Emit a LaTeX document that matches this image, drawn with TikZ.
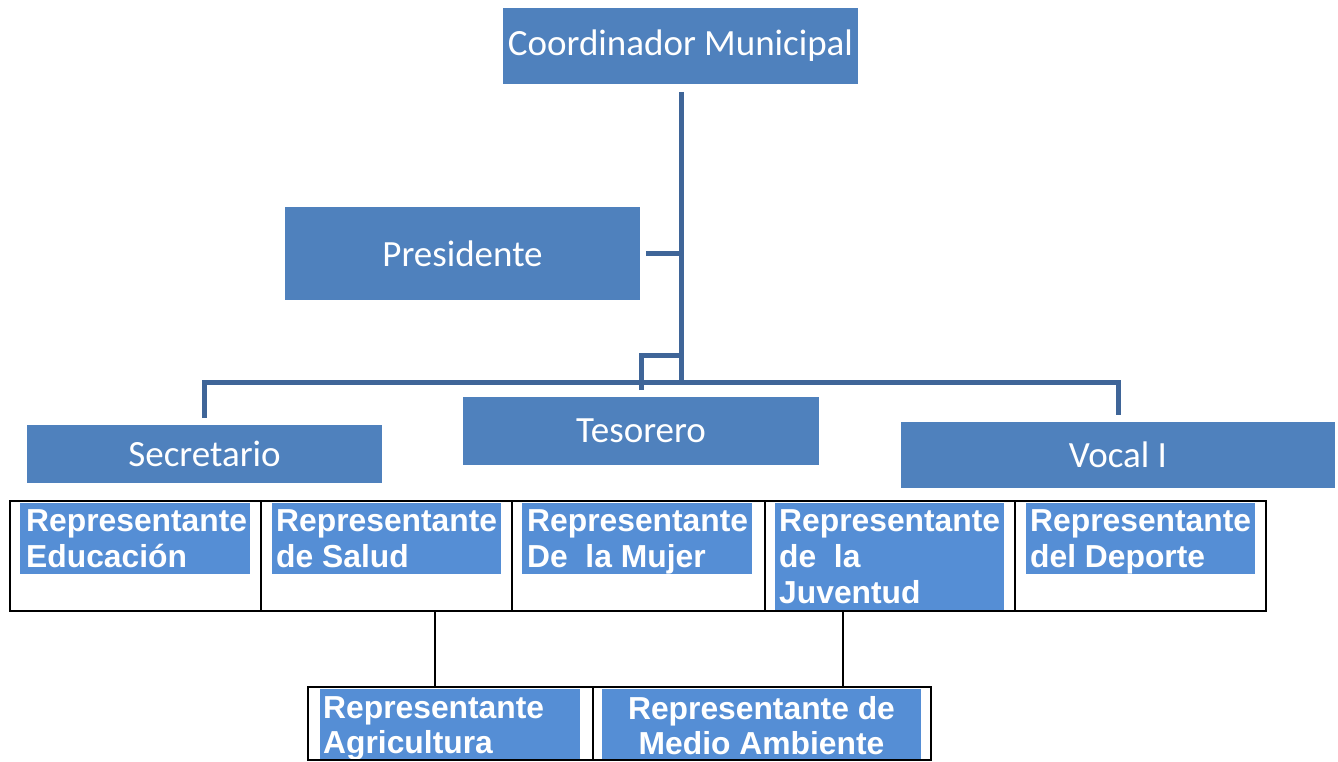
\documentclass[tikz,border=0pt]{standalone}
\usepackage{fontspec}
\setmainfont{Liberation Sans}
\newfontfamily\calfont{Carlito}
\definecolor{boxblue}{HTML}{4F81BD}
\definecolor{cellblue}{HTML}{558ED5}
\definecolor{linkblue}{HTML}{3F6598}
\begin{document}
\begin{tikzpicture}[x=1pt,y=-1pt,
  topbox/.style={fill=boxblue, draw=none, text=white, inner sep=0,
    font=\calfont\fontsize{37}{44}\selectfont},
  cellfill/.style={fill=cellblue, draw=none, inner sep=0, anchor=north west},
  celltext/.style={text=white, inner sep=0, anchor=north west, align=left,
    font=\bfseries\fontsize{31.8}{36}\selectfont},
  celltextc/.style={text=white, inner sep=0, anchor=north, align=center,
    font=\bfseries\fontsize{31.8}{35}\selectfont},
  frame/.style={draw=black, line width=2.5pt, inner sep=0, fill=none},
  link/.style={draw=linkblue, line width=5pt},
  blink/.style={draw=black, line width=2.5pt}]
\useasboundingbox (0,0) rectangle (1338,762);

% top boxes
\node[topbox, minimum width=355, minimum height=76] (coord) at (680.5,46) {Coordinador Municipal};
\node[topbox, minimum width=355, minimum height=93] (pres) at (462.5,253.5) {Presidente};
\node[topbox, minimum width=355, minimum height=58] (sec) at (204.5,454) {Secretario};
\node[topbox, minimum width=356, minimum height=68] (tes) at (641,431) {Tesorero};
\node[topbox, minimum width=434, minimum height=66] (voc) at (1118,455) {Vocal I};

% connector coordinates
\coordinate (a1) at (681,92);
\coordinate (a2) at (681,383);
\coordinate (p1) at (646,253);
\coordinate (p2) at (681,253);
\coordinate (t1a) at (641,390);
\coordinate (t1b) at (641,355);
\coordinate (t1c) at (681,355);
\coordinate (s1) at (204,418);
\coordinate (s2) at (204,382);
\coordinate (v2) at (1118,382);
\coordinate (v1) at (1118,415);

\draw[link] (a1) -- (a2);
\draw[link] (p1) -- (p2);
\draw[link] (t1a) -- (t1b) -- (t1c);
\draw[link] (s1) -- (s2) -- (v2) -- (v1);

% table
\node[cellfill, minimum width=230, minimum height=71] (f1) at (20,503) {};
\node[cellfill, minimum width=229, minimum height=71] (f2) at (272,503) {};
\node[cellfill, minimum width=230, minimum height=71] (f3) at (522,503) {};
\node[cellfill, minimum width=229, minimum height=108] (f4) at (775,503) {};
\node[cellfill, minimum width=229, minimum height=71] (f5) at (1026,503) {};

\node[celltext] (t1) at (26,509.5) {Representante\\Educación};
\node[celltext] (t2) at (276,509.5) {Representante\\de Salud};
\node[celltext] (t3) at (527,509.5) {Representante\\De\ \ la Mujer};
\node[celltext] (t4) at (779,509.5) {Representante\\de\ \ la\\Juventud};
\node[celltext] (t5) at (1030,509.5) {Representante\\del Deporte};

\node[frame, minimum width=1256, minimum height=110] (tbl) at (638,556) {};
\coordinate (d1a) at (261,501); \coordinate (d1b) at (261,611);
\coordinate (d2a) at (512,501); \coordinate (d2b) at (512,611);
\coordinate (d3a) at (765,501); \coordinate (d3b) at (765,611);
\coordinate (d4a) at (1015,501); \coordinate (d4b) at (1015,611);
\draw[blink] (d1a) -- (d1b);
\draw[blink] (d2a) -- (d2b);
\draw[blink] (d3a) -- (d3b);
\draw[blink] (d4a) -- (d4b);

% bottom
\node[cellfill, minimum width=260, minimum height=72] (g1) at (320,689) {};
\node[cellfill, minimum width=319, minimum height=72] (g2) at (602,689) {};
\node[celltext, font=\bfseries\fontsize{31.8}{35}\selectfont] (u1) at (323,696) {Representante\\Agricultura};
\node[celltextc] (u2) at (761.5,696) {Representante de\\Medio Ambiente};
\node[frame, minimum width=623, minimum height=73] (bot) at (619.5,723.5) {};
\coordinate (e1) at (593,687); \coordinate (e2) at (593,761);
\draw[blink] (e1) -- (e2);

\coordinate (c1) at (435,611); \coordinate (c2) at (435,687);
\coordinate (c3) at (843,611); \coordinate (c4) at (843,687);
\draw[blink] (c1) -- (c2);
\draw[blink] (c3) -- (c4);
\end{tikzpicture}
\end{document}
